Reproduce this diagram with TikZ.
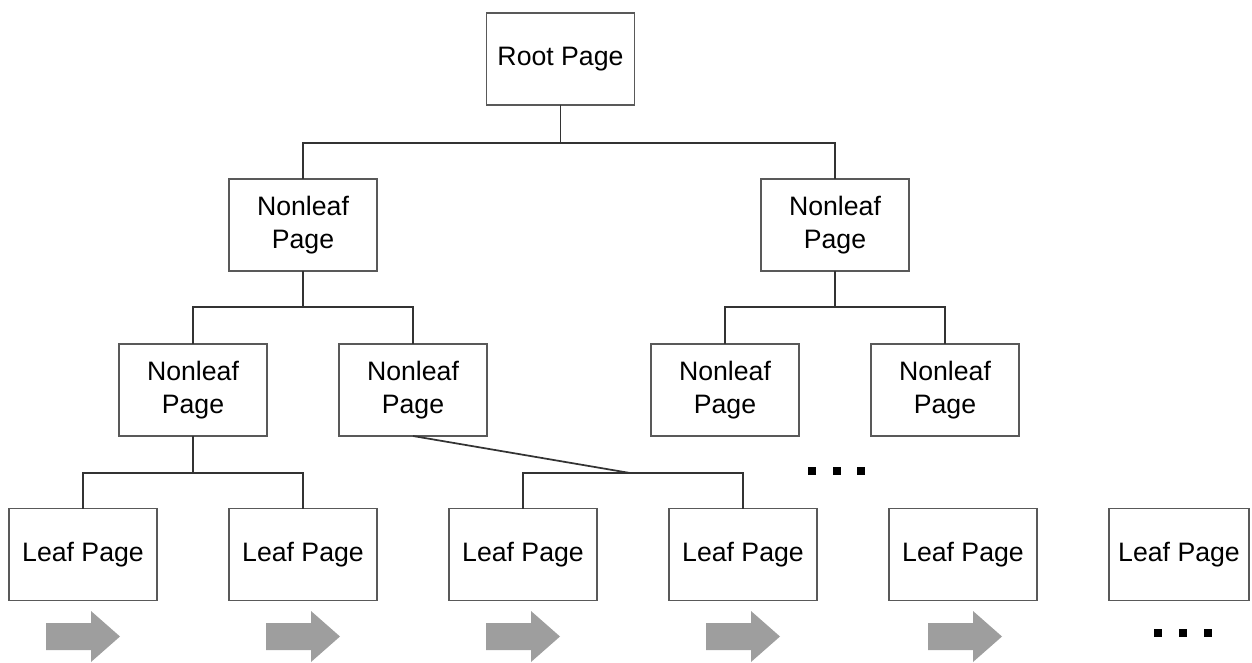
\documentclass[tikz,border=0pt]{standalone}
\usepackage{fontspec}
\setmainfont{Liberation Sans}
\begin{document}
\begin{tikzpicture}[x=0.75pt,y=-0.75pt,
  pagebox/.style={draw=black!65,line width=1.1pt,fill=white,minimum width=111pt,minimum height=69pt,
    inner sep=0pt,outer sep=0pt,align=center,font=\fontsize{20}{25}\selectfont},
  conn/.style={draw=black!80,line width=1.3pt},
  arrowfill/.style={fill=black!38,draw=none},
  dot/.style={fill=black,draw=none,minimum size=5.5pt,inner sep=0pt},
  blockarrow/.pic={\fill[arrowfill] (-37,-13.5) -- (8,-13.5) -- (8,-25.5) -- (37,0) -- (8,25.5) -- (8,13.5) -- (-37,13.5) -- cycle;}]
\useasboundingbox (0,0) rectangle (1252,663);
% boxes
\node[pagebox] (root) at (560.5,59) {Root Page};
\node[pagebox] (n1L) at (303,225) {Nonleaf\\Page};
\node[pagebox] (n1R) at (835,225) {Nonleaf\\Page};
\node[pagebox] (n2a) at (193,390) {Nonleaf\\Page};
\node[pagebox] (n2b) at (413,390) {Nonleaf\\Page};
\node[pagebox] (n2c) at (725,390) {Nonleaf\\Page};
\node[pagebox] (n2d) at (945,390) {Nonleaf\\Page};
\node[pagebox] (l1) at (83,554.5) {Leaf Page};
\node[pagebox] (l2) at (303,554.5) {Leaf Page};
\node[pagebox] (l3) at (523,554.5) {Leaf Page};
\node[pagebox] (l4) at (743,554.5) {Leaf Page};
\node[pagebox] (l5) at (963,554.5) {Leaf Page};
\node[pagebox,minimum width=105pt] (l6) at (1179,554.5) {Leaf Page};
% junctions
\coordinate (j0) at (560.5,143);
\coordinate (j1) at (303,307);
\coordinate (j2) at (835,307);
\coordinate (j3) at (193,473);
\coordinate (j4) at (630,473);
% connectors
\draw[conn] (root.south) -- (j0);
\draw[conn] (n1L.north) |- (j0) -| (n1R.north);
\draw[conn] (n1L.south) -- (j1);
\draw[conn] (n2a.north) |- (j1) -| (n2b.north);
\draw[conn] (n1R.south) -- (j2);
\draw[conn] (n2c.north) |- (j2) -| (n2d.north);
\draw[conn] (n2a.south) -- (j3);
\draw[conn] (l1.north) |- (j3) -| (l2.north);
\draw[conn] (n2b.south) -- (j4);
\draw[conn] (l3.north) |- (j4) -| (l4.north);
% arrows
\pic at (83,636.5) {blockarrow};
\pic at (303,636.5) {blockarrow};
\pic at (523,636.5) {blockarrow};
\pic at (743,636.5) {blockarrow};
\pic at (965,636.5) {blockarrow};
% ellipses
\node[dot] (d1) at (812,471) {};
\node[dot] (d2) at (837,471) {};
\node[dot] (d3) at (861,471) {};
\node[dot] (d4) at (1158,633) {};
\node[dot] (d5) at (1183,633) {};
\node[dot] (d6) at (1208,633) {};
\end{tikzpicture}
\end{document}
